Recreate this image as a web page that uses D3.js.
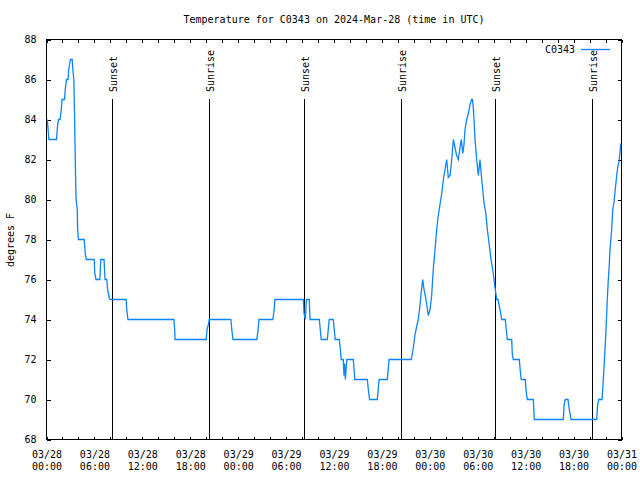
<!DOCTYPE html>
<html><head><meta charset="utf-8">
<script src="https://cdn.jsdelivr.net/npm/d3@7"></script>
<style>
body{margin:0;background:#fff}
text{font-family:"DejaVu Sans Mono",monospace;font-size:10px;fill:#000}
</style>
</head><body>
<svg id="c" width="640" height="480"></svg>
<script>
// ---- data ----
const startTime = Date.UTC(2024, 2, 28, 0, 0);
const hours = [0.1,0.3,1.25,1.4,1.5,1.7,1.85,1.95,2.25,2.35,2.5,2.7,2.78,3.0,3.22,3.3,3.42,3.5,3.6,3.7,3.85,3.9,4.0,
 4.72,4.85,4.98,5.97,6.05,6.2,6.68,6.8,7.2,7.33,7.55,7.65,7.85,7.97,9.97,10.05,10.2,15.95,16.05,16.1,20.0,20.1,20.3,20.38,
 23.08,23.2,23.35,26.33,26.5,26.6,28.35,28.5,28.6,32.16,32.25,32.41,32.55,32.9,33.0,34.16,34.4,35.16,35.4,35.91,36.15,36.66,
 36.8,36.9,37.16,37.25,37.32,37.42,37.6,38.42,38.6,40.17,40.3,40.45,41.42,41.65,42.67,42.9,45.68,45.9,46.15,46.4,46.55,
 46.77,46.89,47.11,47.27,47.52,47.81,48.02,48.23,48.43,48.65,48.86,49.06,49.27,49.49,49.69,49.9,50.11,50.31,50.53,50.74,
 50.94,51.15,51.36,51.57,51.78,51.94,52.12,52.28,52.4,52.62,52.82,53.03,53.24,53.34,53.44,53.53,53.66,53.87,54.07,54.28,
 54.5,54.62,54.78,55.0,55.2,55.45,55.66,55.95,56.16,56.37,56.54,56.79,57.0,57.45,57.63,57.7,58.25,58.33,58.45,59.2,59.38,
 59.45,59.95,60.04,60.2,60.96,61.08,64.71,64.8,64.96,65.3,65.42,65.68,68.9,69.0,69.15,69.56,69.68,69.72,69.81,69.93,70.06,
 70.22,70.35,70.44,70.56,70.77,70.9,71.06,71.22,71.4,71.56,71.69,71.81,71.9];
const temps = [84,83,83,83.75,84,84,84.5,85,85,85.5,86,86,86.5,87,87,86.5,86,84.5,82,80,79.5,78.5,78,
 78,77.3,77,77,76.3,76,76,77,77,76,76,75.5,75.1,75,75,74.5,74,74,73.5,73,73,73.5,73.8,74,
 74,73.5,73,73,73.5,74,74,74.5,75,75,74.3,74,75,75,74,74,73,73,74,74,73,73,
 72.5,72,72,71.2,71.8,71,72,72,71,71,70.5,70,70,71,71,72,72,72.5,73.25,73.75,74,
 74.7,75.25,76,75.5,75,74.2,74.5,75.2,76.5,77.5,78.5,79.2,79.75,80.3,81,81.5,82,81.1,81.2,82,
 83,82.6,82.2,82,82.6,83,82.3,82.75,83.5,84,84.3,84.75,85,85,84.6,84,83,82,81.2,82,
 81,80.5,79.85,79.35,78.5,77.7,77,76.3,75.6,75,75,74.5,74,74,73.25,73,73,72.25,72,72,71.2,
 71,71,70.5,70,70,69,69,69.7,70,70,69.6,69,69,69.7,70,70,70.7,71,71.6,72.5,73.5,
 75,76,76.5,77.5,78.5,79.5,79.85,80.5,81.2,81.7,81.9,82.35,82.8];
const sunLabels = ["Sunset","Sunrise","Sunset","Sunrise","Sunset","Sunrise"];
const sunHours = [8.22, 20.35, 32.22, 44.35, 56.2, 68.35];
const yTicks = [68,70,72,74,76,78,80,82,84,86,88];
const labelStepHours = 6, minorStepHours = 2, spanHours = 72;
const seriesName = "C0343";
const titleText = "Temperature for C0343 on 2024-Mar-28 (time in UTC)";
const yLabel = "degrees F";

// ---- chart ----
const H = 3600e3;
const toDate = h => new Date(startTime + h * H);
const data = hours.map((h, i) => ({t: toDate(h), v: temps[i]}));

const svg = d3.select("#c");
const L = 46.5, R = 621.5, T = 39.5, B = 439.5;
const x = d3.scaleUtc().domain([toDate(0), toDate(spanHours)]).range([L, R]);
const y = d3.scaleLinear().domain([68, 88]).range([B, T]);

const minorTicks = d3.range(0, spanHours + 0.01, minorStepHours).map(toDate);
const labelTicks = d3.range(0, spanHours + 0.01, labelStepHours).map(toDate);

function clean(g){ g.select(".domain").remove(); g.selectAll("line").attr("stroke","#000").attr("shape-rendering","crispEdges"); }

svg.append("g").attr("transform",`translate(0,${B})`)
  .call(d3.axisBottom(x).tickValues(minorTicks).tickSize(-3).tickFormat("")).call(clean);
svg.append("g").attr("transform",`translate(0,${T})`)
  .call(d3.axisTop(x).tickValues(minorTicks).tickSize(-3).tickFormat("")).call(clean);
svg.append("g").attr("transform",`translate(${L},0)`)
  .call(d3.axisLeft(y).tickValues(yTicks).tickSize(-4).tickPadding(10).tickFormat(d3.format("d"))).call(clean)
  .selectAll("text").attr("font-family",null).attr("font-size",null);
svg.append("g").attr("transform",`translate(${R},0)`)
  .call(d3.axisRight(y).tickValues(yTicks).tickSize(-4).tickFormat("")).call(clean);

const fmtD = d3.utcFormat("%m/%d"), fmtT = d3.utcFormat("%H:%M");
const xl = svg.append("g").attr("transform",`translate(0,${B})`)
  .call(d3.axisBottom(x).tickValues(labelTicks).tickSize(0).tickFormat(""));
xl.select(".domain").remove();
xl.selectAll(".tick text").remove();
xl.selectAll(".tick").each(function(d){
  const t = d3.select(this).append("text").attr("text-anchor","middle");
  t.append("tspan").attr("x",0).attr("y",18).text(fmtD(d));
  t.append("tspan").attr("x",0).attr("y",30.5).text(fmtT(d));
});

// frame
svg.append("rect").attr("x",L).attr("y",T).attr("width",R-L).attr("height",B-T)
  .attr("fill","none").attr("stroke","#000").attr("shape-rendering","crispEdges");

// sunrise / sunset markers
const sg = svg.append("g");
sunHours.forEach((h, i) => {
  const xp = Math.round(x(toDate(h))) + 0.5;
  sg.append("line").attr("x1",xp).attr("x2",xp).attr("y1",99).attr("y2",B)
    .attr("stroke","#000").attr("shape-rendering","crispEdges");
  sg.append("text").attr("transform",`translate(${xp+4},92) rotate(-90)`)
    .attr("text-anchor","start").text(sunLabels[i]);
});

// series line
svg.append("path").datum(data)
  .attr("fill","none").attr("stroke","#0a84ff").attr("stroke-width",1.3)
  .attr("d", d3.line().x(d => x(d.t)).y(d => y(d.v)));

// title, axis label
svg.append("text").attr("x",334).attr("y",23).attr("text-anchor","middle").text(titleText);
svg.append("text").attr("transform","translate(14,240) rotate(-90)").attr("text-anchor","middle").text(yLabel);

// legend
svg.append("text").attr("x",575).attr("y",53).attr("text-anchor","end").text(seriesName);
svg.append("line").attr("x1",581).attr("x2",610).attr("y1",49.5).attr("y2",49.5)
  .attr("stroke","#0a84ff").attr("stroke-width",1.3);
</script>
</body></html>
